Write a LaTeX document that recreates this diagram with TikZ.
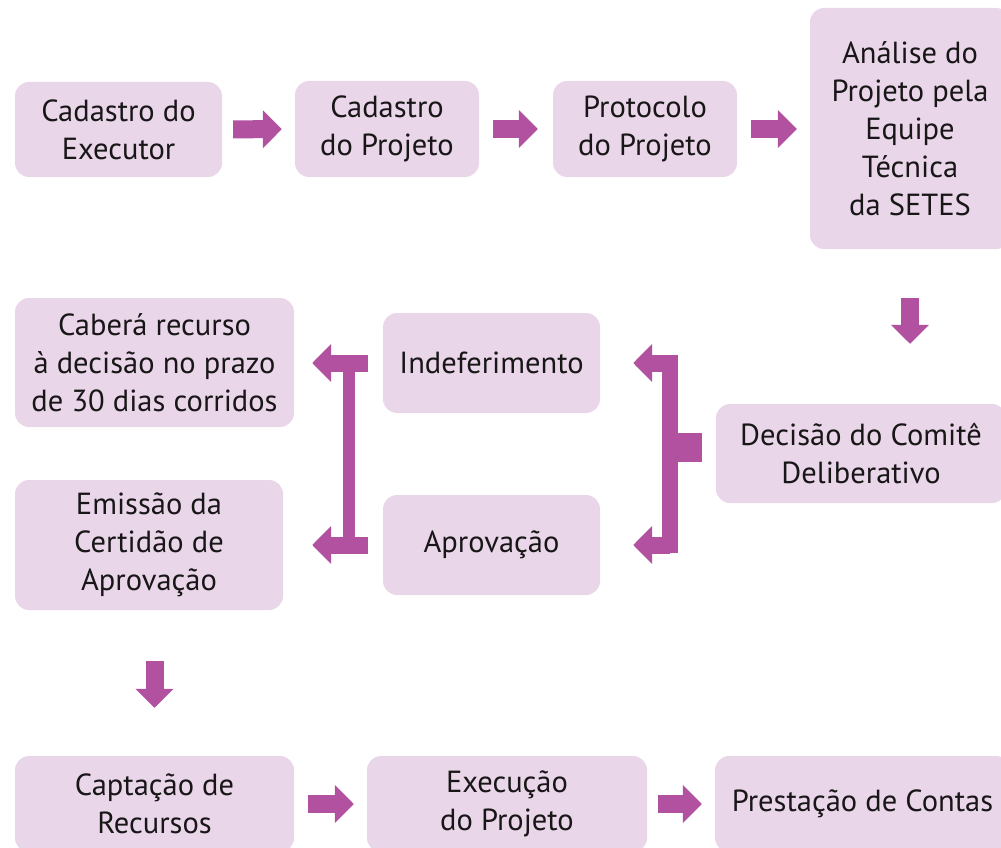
\documentclass[tikz,border=0pt]{standalone}
\usepackage{fontspec}
\setmainfont{PT Sans}
\usetikzlibrary{arrows.meta}
\definecolor{BOXFILL}{RGB}{233,215,233}
\definecolor{FLOWCOL}{RGB}{178,81,160}
\definecolor{TXT}{RGB}{25,22,24}
\begin{document}
\begin{tikzpicture}
[
 x=1pt, y=-1pt,
 BOX/.style={rectangle, rounded corners=14pt, fill=BOXFILL, inner sep=0pt, align=center, text=TXT, font=\fontsize{30.5}{38}\selectfont},
 FLOW/.style={draw=FLOWCOL, line width=18pt, -{Triangle[length=19pt, width=37pt]}},
 BAR/.style={draw=FLOWCOL, line width=16pt},
 ]
%
\clip (0,0) rectangle (1001,848);
%
\node [BOX, minimum width=207pt, minimum height=95pt]  (exec)   at ( 118.5, 129.5)  {Cadastro do\\Executor};
\node [BOX, minimum width=184pt, minimum height=96pt]  (cproj)  at ( 387, 129)  {Cadastro\\do Projeto};
\node [BOX, minimum width=184pt, minimum height=96pt]  (proto)  at ( 645, 129)  {Protocolo\\do Projeto};
\node [BOX, minimum width=200pt, minimum height=241pt] (anal)   at ( 910, 128.5)  {Análise do\\Projeto pela\\Equipe\\Técnica\\da SETES};
%
\node [BOX, minimum width=290pt, minimum height=99pt]  (dec)    at ( 861, 453.5)  {Decisão do Comitê\\Deliberativo};
\node [BOX, minimum width=217pt, minimum height=100pt] (indef)  at ( 491.5, 363)  {Indeferimento};
\node [BOX, minimum width=217pt, minimum height=100pt] (aprov)  at ( 491.5, 545)  {Aprovação};
\node [BOX, minimum width=279pt, minimum height=129pt] (caber)  at ( 154.5, 362.5)  {Caberá recurso\\à decisão no prazo\\de 30 dias corridos};
\node [BOX, minimum width=268pt, minimum height=130pt] (emis)   at ( 149, 545)  {Emissão da\\Certidão de\\Aprovação};
%
\node [BOX, minimum width=279pt, minimum height=96pt]  (capt)   at ( 154.5, 804)  {Captação de\\Recursos};
\node [BOX, minimum width=280pt, minimum height=96pt]  (exe)    at ( 507, 804)  {Execução\\do Projeto};
\node [BOX, minimum width=295pt, minimum height=96pt]  (prest)  at ( 862.5, 804)  {Prestação de Contas};
%
\draw [FLOW, shorten <=11pt, shorten >=13pt]  (exec)  -- (cproj) ;
\draw [FLOW, shorten <=14pt, shorten >=15pt]  (cproj) -- (proto) ;
\draw [FLOW, shorten <=14pt, shorten >=13pt]  (proto) -- (anal.west |- proto.east) ;
\draw [FLOW, shorten <=49pt, shorten >=60pt]  (anal.south) -- (anal.south |- dec.north) ;
%
\coordinate (rtop) at (670, 355);
\coordinate (rbot) at (670, 553);
\draw [BAR]  (rtop) -- (rbot) ;
\draw [BAR, line width=29pt, shorten <=14pt]  ([yshift=6pt]dec.west) -- ++(-46,0) ;
\draw [FLOW, line width=17pt, shorten >=33pt]  (rtop |- indef.east) -- (indef.east) ;
\draw [FLOW, line width=17pt, shorten >=33pt]  (rbot |- aprov.east) -- (aprov.east) ;
%
\coordinate (ltop) at (349, 355);
\coordinate (lbot) at (349, 553);
\draw [BAR, line width=12pt]  (ltop) -- (lbot) ;
\draw [FLOW, line width=17pt, shorten <=15pt, shorten >=18pt]  (indef.west) -- (caber.east |- indef.west) ;
\draw [FLOW, line width=17pt, shorten <=15pt, shorten >=29pt]  (aprov.west) -- (emis.east) ;
%
\draw [FLOW, shorten <=51pt, shorten >=48pt]  (emis.south -| capt.north) -- (capt.north) ;
\draw [FLOW, shorten <=14pt, shorten >=13pt]  (capt) -- (exe) ;
\draw [FLOW, shorten <=11pt, shorten >=13pt]  (exe) -- (prest) ;
%
\end{tikzpicture}
\end{document}
